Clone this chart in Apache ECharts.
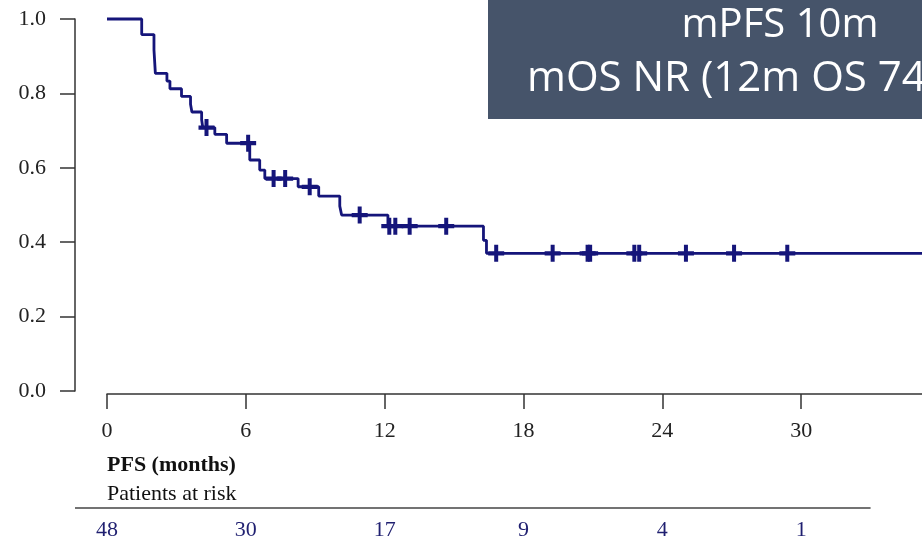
<!DOCTYPE html>
<html><head><meta charset="utf-8">
<script src="https://cdn.jsdelivr.net/npm/echarts@6/dist/echarts.min.js"></script>
<style>html,body{margin:0;padding:0;background:#fff;overflow:hidden}#c{width:922px;height:537px}</style>
</head><body><div id="c"></div>
<script>
// Kaplan-Meier PFS step curve (time in months, survival probability after the step)
const stepTimes = [0, 1.5, 2.03, 2.09, 2.59, 2.72, 3.22, 3.61, 3.67, 4.09, 4.14, 4.66, 5.17, 6.17, 6.60, 6.82, 8.26, 9.15, 10.06, 10.14, 12.14, 16.27, 16.40, 36];
const stepSurv  = [1.0, 0.958, 0.917, 0.854, 0.833, 0.8125, 0.792, 0.771, 0.75, 0.729, 0.708, 0.69, 0.666, 0.621, 0.594, 0.571, 0.549, 0.524, 0.497, 0.473, 0.443, 0.405, 0.370, 0.370];
// censored observations (months)
const censorTimes = [4.30, 6.10, 7.20, 7.70, 8.76, 10.92, 12.20, 12.46, 13.08, 14.66, 16.82, 19.26, 20.77, 20.88, 22.79, 23.0, 25.02, 27.1, 29.4];
// number at risk table
const riskTimes  = [0, 6, 12, 18, 24, 30];
const riskCounts = [48, 30, 17, 9, 4, 1];
const xLabel = 'PFS (months)';
const riskTitle = 'Patients at risk';
const boxLines = ['mPFS 10m', 'mOS NR (12m OS 74%)'];

function survAt(t) {
  let s = stepSurv[0];
  for (let i = 0; i < stepTimes.length; i++) { if (stepTimes[i] <= t) s = stepSurv[i]; }
  return s;
}
const curveData = stepTimes.map((t, i) => [t, stepSurv[i]]);
const censorData = censorTimes.map(t => [t, survAt(t)]);

const NAVY = '#15157a';
const SERIF = '"Liberation Serif", "DejaVu Serif", serif';
const chart = echarts.init(document.getElementById('c'), null, { renderer: 'canvas' });
const plus = 'path://M-2,-8 L2,-8 L2,-2 L8,-2 L8,2 L2,2 L2,8 L-2,8 L-2,2 L-8,2 L-8,-2 L-2,-2 Z';

chart.setOption({
  animation: false,
  backgroundColor: '#ffffff',
  grid: { left: 107, top: 19, right: -18, bottom: 146, containLabel: false, outerBoundsMode: 'none' },
  xAxis: {
    type: 'value', min: 0, max: 36, interval: 6, offset: 3,
    splitLine: { show: false },
    axisLine: { show: true, onZero: false, lineStyle: { color: '#333', width: 1.5 } },
    axisTick: { show: true, inside: false, length: 15, lineStyle: { color: '#333', width: 1.5 } },
    axisLabel: { margin: 26, color: '#222', fontFamily: SERIF, fontSize: 22,
      formatter: v => (v > 30 ? '' : String(v)) }
  },
  yAxis: {
    type: 'value', min: 0, max: 1, interval: 0.2, offset: 32,
    splitLine: { show: false },
    axisLine: { show: true, onZero: false, lineStyle: { color: '#333', width: 1.5 } },
    axisTick: { show: true, inside: false, length: 15, lineStyle: { color: '#333', width: 1.5 } },
    axisLabel: { margin: 29, color: '#222', fontFamily: SERIF, fontSize: 22,
      formatter: v => v.toFixed(1) }
  },
  series: [
    { type: 'line', step: 'end', data: curveData, showSymbol: false, symbol: 'none',
      lineStyle: { color: NAVY, width: 2.8 }, clip: false, silent: true },
    { type: 'scatter', data: censorData, symbol: plus, symbolSize: [16, 17],
      itemStyle: { color: NAVY, opacity: 1 }, silent: true, z: 3 }
  ]
});

function drawExtras() {
  const els = [];
  // annotation box
  els.push({ type: 'rect', shape: { x: 488, y: 0, width: 440, height: 119 }, style: { fill: '#46546a' }, z: 10 });
  els.push({ type: 'text', x: 780, y: 26, z: 11, style: { text: boxLines[0], fill: '#fff', font: '40px "Open Sans", "Noto Sans", sans-serif', textAlign: 'center', textVerticalAlign: 'middle' } });
  els.push({ type: 'text', x: 527, y: 79, z: 11, style: { text: boxLines[1], fill: '#fff', font: '42px "Open Sans", "Noto Sans", sans-serif', textAlign: 'left', textVerticalAlign: 'middle' } });
  // x axis title and risk table
  const x0 = chart.convertToPixel({ xAxisIndex: 0 }, 0);
  els.push({ type: 'text', x: x0, y: 465, style: { text: xLabel, fill: '#111', font: 'bold 22px ' + SERIF, textAlign: 'left', textVerticalAlign: 'middle' } });
  els.push({ type: 'text', x: x0, y: 494, style: { text: riskTitle, fill: '#111', font: '22px ' + SERIF, textAlign: 'left', textVerticalAlign: 'middle' } });
  const xr = chart.convertToPixel({ xAxisIndex: 0 }, 33);
  els.push({ type: 'line', shape: { x1: 75, y1: 508, x2: xr, y2: 508 }, style: { stroke: '#444', lineWidth: 1.5 } });
  riskTimes.forEach((t, i) => {
    els.push({ type: 'text', x: chart.convertToPixel({ xAxisIndex: 0 }, t), y: 530,
      style: { text: String(riskCounts[i]), fill: '#1f1f70', font: '22px ' + SERIF, textAlign: 'center', textVerticalAlign: 'middle' } });
  });
  chart.setOption({ graphic: { elements: els } });
}
drawExtras();
</script>
</body></html>
